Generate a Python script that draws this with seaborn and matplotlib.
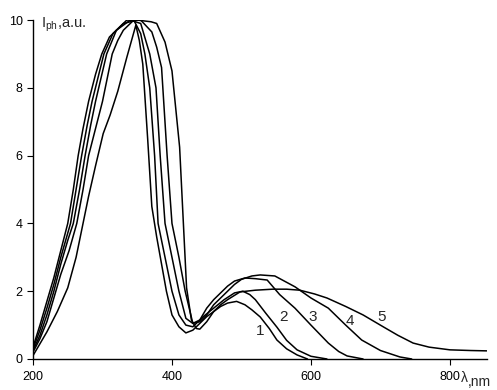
import numpy as np
import pandas as pd
import seaborn as sns
from matplotlib import pyplot as plt

# photocurrent spectra, curves 1..5
wl1 = [200, 210, 220, 235, 250, 262, 272, 280, 290, 301, 311, 322, 335, 348, 353, 358, 365, 371, 378, 385, 392, 400, 410, 420,
       430, 440, 450, 460, 470, 480, 493, 505, 515, 527, 540, 551, 565, 580, 595]
i1 = [0.1, 0.45, 0.8, 1.4, 2.1, 3.0, 4.0, 4.8, 5.7, 6.65, 7.2, 7.9, 8.9, 9.85, 9.4, 8.7, 6.5, 4.5, 3.6, 2.8, 2.0, 1.3, 0.95, 0.77,
      0.85, 1.05, 1.25, 1.4, 1.55, 1.65, 1.7, 1.6, 1.45, 1.24, 0.9, 0.56, 0.3, 0.12, 0.0]

wl2 = [200, 210, 220, 230, 240, 252, 263, 272, 280, 290, 300, 314, 322, 330, 345, 355, 361, 368, 375, 380, 390, 400, 410, 420,
       430, 445, 460, 475, 490, 502, 512, 520, 535, 551, 565, 580, 600, 623]
i2 = [0.2, 0.6, 1.1, 1.8, 2.5, 3.2, 4.0, 5.0, 6.0, 6.8, 7.6, 9.0, 9.4, 9.7, 10.0, 9.6, 9.0, 8.0, 6.0, 4.0, 3.0, 2.0, 1.3, 1.0,
      0.95, 1.25, 1.5, 1.75, 1.95, 2.0, 1.9, 1.75, 1.35, 0.94, 0.55, 0.27, 0.08, 0.0]

wl3 = [200, 210, 220, 230, 240, 250, 258, 267, 275, 283, 290, 306, 320, 340, 355, 368, 377, 383, 390, 400, 410, 420, 430, 440,
       450, 460, 470, 480, 490, 505, 520, 537, 555, 577, 600, 625, 640, 652, 675]
i3 = [0.25, 0.7, 1.3, 2.0, 2.8, 3.5, 4.0, 5.0, 6.0, 6.9, 7.6, 9.0, 9.7, 10.0, 9.9, 9.0, 8.0, 6.0, 4.0, 3.0, 2.0, 1.2, 1.05, 1.15,
      1.5, 1.75, 1.95, 2.15, 2.3, 2.39, 2.37, 2.33, 1.9, 1.5, 1.0, 0.47, 0.22, 0.09, 0.0]

wl4 = [200, 210, 220, 230, 240, 254, 262, 270, 278, 285, 302, 315, 335, 355, 371, 378, 385, 393, 400, 410, 419, 430, 440, 450,
       460, 470, 480, 490, 500, 515, 527, 548, 577, 600, 625, 650, 673, 700, 728, 745]
i4 = [0.3, 0.85, 1.5, 2.2, 3.0, 4.0, 5.0, 6.0, 6.9, 7.6, 9.0, 9.6, 10.0, 10.0, 9.65, 9.2, 8.6, 6.0, 4.0, 3.0, 2.0, 1.05, 1.1, 1.3,
      1.6, 1.8, 2.0, 2.2, 2.35, 2.45, 2.48, 2.45, 2.13, 1.8, 1.5, 1.0, 0.56, 0.25, 0.06, 0.0]

wl5 = [200, 210, 220, 230, 240, 250, 258, 265, 272, 280, 290, 299, 310, 330, 350, 370, 378, 390, 400, 411, 414, 421, 428, 435,
       440, 450, 460, 470, 480, 498, 520, 545, 565, 584, 605, 623, 650, 675, 704, 725, 747, 770, 800, 830, 853]
i5 = [0.35, 1.0, 1.7, 2.4, 3.2, 4.0, 5.0, 6.0, 6.8, 7.6, 8.4, 9.0, 9.5, 9.9, 10.0, 9.95, 9.9, 9.35, 8.5, 6.25, 5.0, 2.1, 1.15, 0.9,
      0.88, 1.1, 1.4, 1.6, 1.75, 1.98, 2.03, 2.06, 2.06, 2.03, 1.92, 1.8, 1.55, 1.3, 0.95, 0.7, 0.47, 0.35, 0.27, 0.25, 0.24]

curve_labels = ['1', '2', '3', '4', '5']
label_x = [527, 560, 603, 656, 702]
label_y = [0.83, 1.24, 1.24, 1.12, 1.24]

xticks = [200, 400, 600, 800]
yticks = [0, 2, 4, 6, 8, 10]

frames = []
for name, wl, val in zip(curve_labels, [wl1, wl2, wl3, wl4, wl5], [i1, i2, i3, i4, i5]):
    frames.append(pd.DataFrame({'wl': wl, 'I': val, 'curve': name}))
df = pd.concat(frames, ignore_index=True)

sns.set_style('ticks')
plt.rcParams['font.family'] = ['Liberation Sans', 'DejaVu Sans']

fig = plt.figure(figsize=(4.97, 3.90), dpi=100)
ax = fig.add_axes([0.0664, 0.0795, 0.913, 0.869])

sns.lineplot(data=df, x='wl', y='I', hue='curve', palette=['black'] * 5, estimator=None,
             sort=False, linewidth=1.1, legend=False, ax=ax)

for t, lx, ly in zip(curve_labels, label_x, label_y):
    ax.text(lx, ly, t, fontsize=11, ha='center', va='center')

ax.set_xlim(200, 853)
ax.set_ylim(0, 10)
ax.set_xticks(xticks)
ax.set_yticks(yticks)
ax.set_xlabel('')
ax.set_ylabel('')
ax.tick_params(direction='out', length=4, width=0.8, labelsize=9, colors='black')
ax.tick_params(axis='x', pad=5)
ax.tick_params(axis='y', pad=3.5)
for s in ['left', 'bottom']:
    ax.spines[s].set_linewidth(1.0)
    ax.spines[s].set_color('black')
sns.despine(ax=ax)

ax.text(211, 9.85, r'I$_{\mathregular{ph}}$,a.u.', fontsize=10.5, va='center', ha='left')
fig.text(461 / 497, 1 - 385 / 390, 'λ', fontsize=10, ha='left', va='bottom')
fig.text(468 / 497, 1 - 389 / 390, ',nm', fontsize=10, ha='left', va='bottom')

plt.savefig('out.png', dpi=100)
